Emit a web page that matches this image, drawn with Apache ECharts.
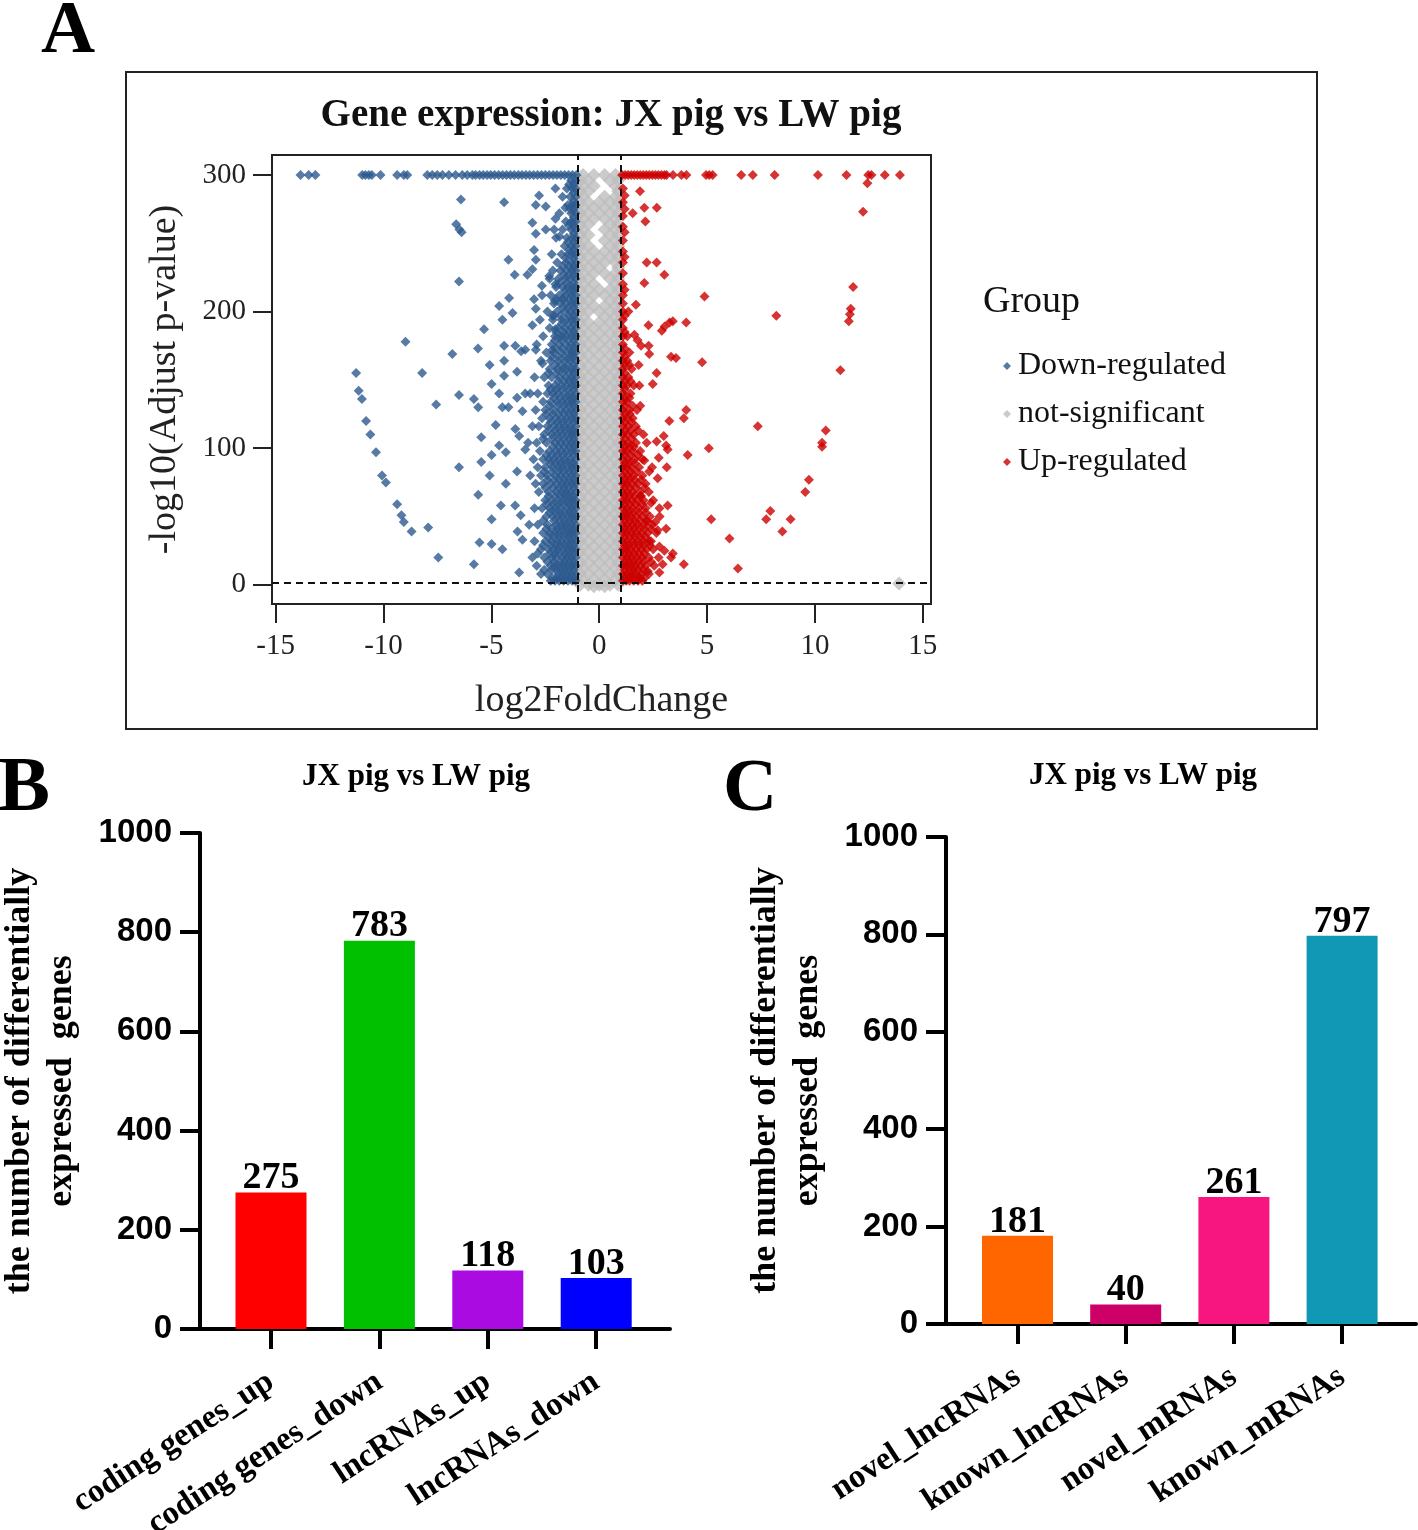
<!DOCTYPE html>
<html><head><meta charset="utf-8">
<script src="https://cdn.jsdelivr.net/npm/echarts@6/dist/echarts.min.js"></script>
<style>html,body{margin:0;padding:0;background:#fff}#c{width:1418px;height:1530px}</style>
</head><body><div id="c"></div>
<script>
// ---------------- Panel A data (volcano) ----------------
const xTicks = [-15, -10, -5, 0, 5, 10, 15];
const yTicks = [0, 100, 200, 300];
const fcCut = 1;          // |log2FC| threshold
const pCut = 1.3;         // -log10(0.05)
const capY = 300;         // capped -log10 p

// points capped at the top (x values, y = capY)
const downCapX = [-13.85,-13.47,-13.16,-10.99,-10.84,-10.68,-10.54,-10.14,-9.37,-9.06,-8.9,-7.97,-7.74,-7.51,-7.27,-6.97,-6.66,-6.35,-6.12,-5.88,-5.73,-5.55,-5.38,-5.2,-5.03,-4.85,-4.66,-4.48,-4.3,-4.12,-3.94,-3.75,-3.58,-3.4,-3.22,-3.04,-2.86,-2.68,-2.5,-2.32,-2.14,-1.96,-1.78,-1.6,-1.42,-1.24,-1.06];
const upCapX = [1.06,1.2,1.34,1.48,1.62,1.76,1.9,2.04,2.18,2.32,2.46,2.6,2.74,2.88,3.02,3.12,3.42,3.81,4.04,4.95,5.1,5.26,6.58,7.12,8.13,10.14,11.46,12.47,12.62,13.24,13.94];

// scattered down-regulated genes [log2FC, -log10 p]
const downSparse = [[-11.27,155],[-11.15,142],[-11.0,136],[-10.81,120],[-10.61,110],[-10.35,97],[-10.07,80],[-9.89,75],[-9.37,59],[-9.17,51],[-9.06,46],[-8.7,39],[-7.93,42],[-7.46,20],[-8.98,178],[-8.21,155],[-7.56,132],[-6.81,169],[-6.5,222],[-6.63,264],[-6.48,260],[-6.38,258],[-6.41,282],[-6.5,139],[-6.5,86],[-5.81,136],[-5.61,130],[-5.61,66],[-5.81,15],[-5.55,31],[-5.34,187],[-5.62,173],[-5.08,161],[-4.99,147],[-5.47,108],[-5.47,90],[-5.08,80],[-4.99,48],[-4.99,30],[-4.49,26],[-4.99,95],[-4.8,117],[-4.64,204],[-4.49,194],[-4.41,280],[-4.21,238],[-4.18,210],[-4.02,199],[-3.92,227],[-4.41,175],[-4.41,164],[-4.41,153],[-4.64,140],[-4.49,130],[-4.64,102],[-4.33,97],[-4.33,74],[-4.56,58],[-3.9,58],[-3.64,51],[-3.79,39],[-3.56,33],[-3.71,9],[-3.89,175],[-3.62,171],[-3.43,172],[-3.81,156],[-3.81,137],[-3.89,114],[-3.71,109],[-3.43,99],[-3.81,83],[-4.21,130],[-3.43,140],[-3.56,127],[-3.33,227],[-3.1,231],[-2.79,285],[-2.94,278],[-2.48,277],[-2.03,290],[-3.1,265],[-2.94,257],[-2.48,260],[-2.09,260],[-2.03,268],[-1.84,255],[-1.57,276],[-1.34,265],[-3.02,245],[-2.94,238],[-3.02,209],[-3.1,190],[-2.94,202],[-2.66,219],[-2.32,226],[-2.03,220],[-2.06,208],[-2.17,197],[-2.03,187],[-1.72,209],[-1.72,182],[-2.94,172],[-2.63,162],[-2.17,172]];

// dense down-regulated band, by row: [-log10 p, [log2FC...]]
const downRows = [
[3,[-1.1,-1.25,-1.45,-1.65,-1.85,-2.05,-2.25]],[8,[-1.1,-1.3,-1.5,-1.7,-1.9,-2.4,-2.7]],[14,[-1.1,-1.25,-1.45,-1.65,-1.85,-2.05,-2.25,-2.9]],
[20,[-1.1,-1.3,-1.5,-1.7,-2.0,-2.2,-2.55,-3.1]],[26,[-1.1,-1.25,-1.45,-1.65,-1.9,-2.1,-2.35,-2.7]],[32,[-1.1,-1.3,-1.5,-1.75,-1.95,-2.2,-2.5,-3.0]],
[38,[-1.1,-1.25,-1.4,-1.6,-1.85,-2.05,-2.3,-2.6]],[44,[-1.1,-1.3,-1.55,-1.75,-2.0,-2.4,-2.85,-3.25]],[50,[-1.1,-1.25,-1.45,-1.7,-1.9,-2.15,-2.45]],
[56,[-1.1,-1.3,-1.5,-1.8,-2.05,-2.3,-2.65,-3.0]],[62,[-1.1,-1.25,-1.45,-1.65,-1.9,-2.2,-2.5]],[68,[-1.1,-1.35,-1.55,-1.75,-2.0,-2.35,-2.8]],
[74,[-1.1,-1.25,-1.5,-1.7,-1.95,-2.25,-2.6,-2.95]],[80,[-1.1,-1.3,-1.55,-1.8,-2.05,-2.4,-2.7,-3.2]],[86,[-1.1,-1.25,-1.45,-1.7,-1.9,-2.15,-2.5,-2.85]],
[92,[-1.1,-1.35,-1.6,-1.85,-2.1,-2.35,-2.6,-3.05]],[98,[-1.1,-1.25,-1.5,-1.75,-2.0,-2.3,-2.75]],[104,[-1.1,-1.3,-1.55,-1.8,-2.05,-2.45,-2.9,-3.3]],
[110,[-1.1,-1.25,-1.45,-1.7,-1.95,-2.2,-2.55]],[116,[-1.1,-1.35,-1.6,-1.85,-2.1,-2.4,-2.8,-3.1]],[122,[-1.1,-1.25,-1.5,-1.75,-2.0,-2.3,-2.65]],
[128,[-1.1,-1.3,-1.55,-1.8,-2.15,-2.5,-2.95]],[134,[-1.1,-1.25,-1.45,-1.7,-1.95,-2.25,-2.6]],[140,[-1.1,-1.35,-1.6,-1.9,-2.15,-2.4,-2.85,-3.2]],
[146,[-1.1,-1.25,-1.5,-1.75,-2.05,-2.35]],[152,[-1.1,-1.3,-1.55,-1.85,-2.2,-2.55,-3.0]],[158,[-1.1,-1.25,-1.5,-1.7,-1.95,-2.3]],
[164,[-1.1,-1.35,-1.6,-1.9,-2.25,-2.7]],[170,[-1.1,-1.25,-1.45,-1.75,-2.1,-2.45]],[176,[-1.1,-1.3,-1.55,-1.85,-2.2,-2.9]],
[182,[-1.1,-1.25,-1.5,-1.8,-2.05,-2.6]],[188,[-1.1,-1.3,-1.6,-1.9,-2.3]],[194,[-1.1,-1.25,-1.5,-1.75,-2.15,-2.75]],
[200,[-1.1,-1.35,-1.6,-1.95,-2.4]],[206,[-1.1,-1.25,-1.5,-1.8,-2.1]],[212,[-1.1,-1.3,-1.55,-1.85,-2.25,-2.65]],
[218,[-1.1,-1.25,-1.45,-1.7,-2.0]],[224,[-1.1,-1.35,-1.6,-1.9,-2.3]],[230,[-1.1,-1.25,-1.5,-1.8,-2.15]],
[236,[-1.1,-1.3,-1.55,-1.95]],[242,[-1.1,-1.25,-1.45,-1.75,-2.2]],[248,[-1.1,-1.3,-1.6]],
[254,[-1.1,-1.25,-1.5,-2.0]],[260,[-1.1,-1.3,-1.7]],[266,[-1.1,-1.25,-1.55]],
[272,[-1.1,-1.3,-1.85]],[278,[-1.1,-1.25,-1.45]],[284,[-1.1,-1.35,-1.7]],
[290,[-1.1,-1.25,-1.5]],[296,[-1.1,-1.3]],
[5,[-1.18,-1.38,-1.58,-1.78,-1.98,-2.18]],[11,[-1.18,-1.4,-1.6,-1.8,-2.0,-2.2,-2.55]],[17,[-1.18,-1.38,-1.6,-1.8,-2.1,-2.4]],
[23,[-1.18,-1.4,-1.6,-1.85,-2.05,-2.3,-2.85]],[29,[-1.18,-1.38,-1.58,-1.8,-2.0,-2.25,-2.6]],[35,[-1.18,-1.4,-1.62,-1.85,-2.1,-2.35]],
[41,[-1.18,-1.35,-1.55,-1.75,-1.95,-2.2,-2.45]],[47,[-1.18,-1.4,-1.6,-1.85,-2.1,-2.6]],[53,[-1.18,-1.38,-1.6,-1.8,-2.05,-2.3]],
[59,[-1.18,-1.4,-1.65,-1.9,-2.15,-2.45]],[65,[-1.18,-1.38,-1.58,-1.8,-2.05,-2.35]],[71,[-1.18,-1.42,-1.65,-1.88,-2.15,-2.5]],
[77,[-1.18,-1.38,-1.6,-1.85,-2.1,-2.4]],[83,[-1.18,-1.4,-1.65,-1.9,-2.2,-2.55]],[89,[-1.18,-1.35,-1.58,-1.8,-2.05,-2.3]],
[95,[-1.18,-1.45,-1.7,-1.95,-2.2,-2.45]],[101,[-1.18,-1.38,-1.62,-1.88,-2.15]],[107,[-1.18,-1.4,-1.65,-1.9,-2.2,-2.6]],
[113,[-1.18,-1.35,-1.58,-1.8,-2.05,-2.35]],[119,[-1.18,-1.45,-1.7,-1.95,-2.25]],[125,[-1.18,-1.38,-1.62,-1.88,-2.15,-2.45]],
[131,[-1.18,-1.4,-1.65,-1.95,-2.3]],[137,[-1.18,-1.35,-1.58,-1.82,-2.1]],[143,[-1.18,-1.45,-1.75,-2.0,-2.25]],
[149,[-1.18,-1.38,-1.62,-1.9]],[155,[-1.18,-1.4,-1.7,-2.0,-2.35]],[161,[-1.18,-1.45,-1.75,-2.05]],
[167,[-1.18,-1.35,-1.6,-1.9,-2.2]],[173,[-1.18,-1.4,-1.7,-2.0]],[179,[-1.18,-1.45,-1.75,-2.05]],
[185,[-1.18,-1.4,-1.65,-2.0]],[191,[-1.18,-1.45,-1.75]],[197,[-1.18,-1.4,-1.8,-2.1]],
[203,[-1.18,-1.45,-1.7]],[209,[-1.18,-1.4,-1.65,-2.0]],[215,[-1.18,-1.35,-1.6]],
[221,[-1.18,-1.5,-1.85]],[227,[-1.18,-1.4,-1.65]],[233,[-1.18,-1.4,-1.7]],
[239,[-1.18,-1.55]],[245,[-1.18,-1.4]],[251,[-1.18,-1.45]],[257,[-1.18]],[263,[-1.18,-1.4]],
[269,[-1.18]],[275,[-1.18,-1.35]],[281,[-1.18]],[287,[-1.18]],[293,[-1.18,-1.4]]
];

// scattered up-regulated genes
const upSparse = [[12.43,294],[12.23,273],[11.77,218],[11.66,202],[11.62,198],[11.57,193],[11.18,157],[10.5,113],[10.33,104],[10.33,101],[9.72,77],[9.55,68],[8.87,48],[8.49,39],[7.93,54],[7.74,48],[7.35,116],[8.21,197],[6.43,12],[6.04,34],[5.19,48],[5.08,100],[4.88,211],[4.77,163],[4.1,95],[4.03,128],[3.92,122],[3.92,15],[4.03,192],[3.41,193],[3.26,192],[3.03,189],[2.9,186],[3.33,167],[3.56,166],[3.02,227],[2.2,236],[2.66,236],[2.67,276],[2.09,276],[2.14,266],[1.89,288],[1.55,272],[2.09,221],[1.7,205],[2.28,190],[1.63,183],[1.78,179],[1.94,175],[2.29,175],[2.32,169],[1.83,161],[2.66,155],[2.48,147],[1.86,146],[1.9,131],[3.25,120],[2.99,109],[3.1,102],[3.17,99],[2.2,104],[2.66,105],[2.76,93],[3.13,86],[2.09,91],[2.32,83],[2.71,78],[1.94,65],[2.4,60],[2.79,56],[3.17,58],[2.2,47],[2.6,46],[3.1,41],[2.71,40],[2.32,32],[2.79,28],[3.02,25],[3.41,23],[3.33,20],[2.94,15],[2.79,9],[2.25,10],[1.86,5]];

// dense up-regulated band
const upRows = [
[3,[1.1,1.25,1.4,1.6,1.8,2.0]],[8,[1.1,1.3,1.5,1.7,1.95,2.3]],[14,[1.1,1.25,1.45,1.65,1.9,2.15,2.55]],
[20,[1.1,1.3,1.5,1.75,2.0,2.3,2.75]],[26,[1.1,1.25,1.45,1.7,1.95,2.2,2.5]],[32,[1.1,1.3,1.55,1.8,2.05,2.4]],
[38,[1.1,1.25,1.5,1.7,1.95,2.25,2.65]],[44,[1.1,1.3,1.55,1.8,2.1,2.45]],[50,[1.1,1.25,1.45,1.7,2.0,2.35,2.8]],
[56,[1.1,1.3,1.55,1.85,2.15]],[62,[1.1,1.25,1.5,1.75,2.05,2.5]],[68,[1.1,1.3,1.55,1.9,2.3]],
[74,[1.1,1.25,1.5,1.8,2.15]],[80,[1.1,1.35,1.6,2.0]],[86,[1.1,1.25,1.5,1.85,2.45]],
[92,[1.1,1.35,1.65,2.0]],[98,[1.1,1.25,1.55,1.9]],[104,[1.1,1.35,1.7]],
[110,[1.1,1.3,1.6,2.05]],[116,[1.1,1.35,1.7]],[122,[1.1,1.3,1.55]],
[128,[1.1,1.4,1.75]],[134,[1.1,1.3]],[140,[1.1,1.45]],[146,[1.1,1.3,1.6]],[152,[1.1,1.35]],
[158,[1.1,1.5]],[164,[1.1,1.3]],[170,[1.1,1.4]],[176,[1.1]],[182,[1.1,1.3]],[188,[1.1]],
[194,[1.1]],[200,[1.1,1.35]],[206,[1.1]],[212,[1.1]],[220,[1.1]],[228,[1.1]],[236,[1.1]],
[244,[1.1]],[252,[1.1]],[262,[1.1]],[270,[1.1]],[280,[1.1]],[290,[1.1]],
[5,[1.18,1.35,1.5,1.7,1.9,2.1]],[11,[1.18,1.4,1.6,1.8,2.05]],[17,[1.18,1.38,1.58,1.8,2.05,2.4]],
[23,[1.18,1.4,1.62,1.85,2.1]],[29,[1.18,1.35,1.58,1.82,2.05,2.35]],[35,[1.18,1.42,1.65,1.9,2.15]],
[41,[1.18,1.38,1.6,1.85,2.1,2.4]],[47,[1.18,1.42,1.65,1.9,2.2]],[53,[1.18,1.35,1.58,1.85,2.15]],
[59,[1.18,1.42,1.7,2.0]],[65,[1.18,1.38,1.62,1.9]],[71,[1.18,1.42,1.7,2.1]],
[77,[1.18,1.38,1.65,1.95]],[83,[1.18,1.45,1.75]],[89,[1.18,1.38,1.65]],
[95,[1.18,1.45,1.8]],[101,[1.18,1.4,1.6]],[107,[1.18,1.5]],[113,[1.18,1.45,1.8]],
[119,[1.18,1.5]],[125,[1.18,1.42]],[131,[1.18,1.55]],[137,[1.18,1.4]],[143,[1.18]],
[149,[1.18,1.45]],[155,[1.18]],[161,[1.18,1.4]],[167,[1.18]],[173,[1.18]],[185,[1.18]],
[197,[1.18]],[216,[1.18]],[240,[1.18]],[258,[1.18]],[275,[1.18]],[285,[1.18]]
];

// not-significant genes (|log2FC| < 1), by row
const nsRows = [
[300,[-0.75,-0.25,0.25,0.75]],[296,[-0.88,-0.5,0.5,0.88]],[292,[-0.75,-0.25,0.75]],[288,[-0.88,-0.5,0.88]],
[284,[-0.75,0.25,0.75]],[280,[-0.88,-0.5,0,0.5,0.88]],[276,[-0.75,-0.25,0.25,0.75]],[272,[-0.88,-0.5,0,0.5,0.88]],
[268,[-0.75,-0.25,0.25,0.75]],[264,[-0.88,-0.5,0.5,0.88]],[260,[-0.75,0.25,0.75]],[256,[-0.88,-0.5,0.5,0.88]],
[252,[-0.75,0.25,0.75]],[248,[-0.88,-0.5,0.5,0.88]],[244,[-0.75,-0.25,0.25,0.75]],[240,[-0.88,-0.5,0,0.5,0.88]],
[236,[-0.75,-0.25,0.25,0.75]],[232,[-0.88,-0.5,0,0.88]],[228,[-0.75,-0.25,0.25,0.75]],[224,[-0.88,-0.5,0.5,0.88]],
[220,[-0.75,-0.25,0.75]],[216,[-0.88,-0.5,0,0.5,0.88]],[212,[-0.75,-0.25,0.25,0.75]],[208,[-0.88,-0.5,0.5,0.88]],
[204,[-0.75,-0.25,0.25,0.75]],[200,[-0.88,-0.5,0,0.5,0.88]],[196,[-0.75,0.25,0.75]],[192,[-0.88,-0.5,0,0.5,0.88]],
[188,[-0.75,-0.25,0.25,0.75]],[184,[-0.88,-0.5,0,0.5,0.88]],[180,[-0.75,-0.25,0.25,0.75]],[176,[-0.88,-0.5,0,0.5,0.88]],
[172,[-0.75,-0.25,0.25,0.75]],[168,[-0.88,-0.5,0,0.5,0.88]],[164,[-0.75,-0.25,0.25,0.75]],[160,[-0.88,-0.5,0,0.5,0.88]],
[156,[-0.75,-0.25,0.25,0.75]],[152,[-0.88,-0.5,0,0.5,0.88]],[148,[-0.75,-0.25,0.25,0.75]],[144,[-0.88,-0.5,0,0.5,0.88]],
[140,[-0.75,-0.25,0.25,0.75]],[136,[-0.88,-0.5,0,0.5,0.88]],[132,[-0.75,-0.25,0.25,0.75]],[128,[-0.88,-0.5,0,0.5,0.88]],
[124,[-0.75,-0.25,0.25,0.75]],[120,[-0.88,-0.5,0,0.5,0.88]],[116,[-0.75,-0.25,0.25,0.75]],[112,[-0.88,-0.5,0,0.5,0.88]],
[108,[-0.75,-0.25,0.25,0.75]],[104,[-0.88,-0.5,0,0.5,0.88]],[100,[-0.75,-0.25,0.25,0.75]],[96,[-0.88,-0.5,0,0.5,0.88]],
[92,[-0.75,-0.25,0.25,0.75]],[88,[-0.88,-0.5,0,0.5,0.88]],[84,[-0.75,-0.25,0.25,0.75]],[80,[-0.88,-0.5,0,0.5,0.88]],
[76,[-0.75,-0.25,0.25,0.75]],[72,[-0.88,-0.5,0,0.5,0.88]],[68,[-0.75,-0.25,0.25,0.75]],[64,[-0.88,-0.5,0,0.5,0.88]],
[60,[-0.75,-0.25,0.25,0.75]],[56,[-0.88,-0.5,0,0.5,0.88]],[52,[-0.75,-0.25,0.25,0.75]],[48,[-0.88,-0.5,0,0.5,0.88]],
[44,[-0.75,-0.25,0.25,0.75]],[40,[-0.88,-0.5,0,0.5,0.88]],[36,[-0.75,-0.25,0.25,0.75]],[32,[-0.88,-0.5,0,0.5,0.88]],
[28,[-0.75,-0.25,0.25,0.75]],[24,[-0.88,-0.5,0,0.5,0.88]],[20,[-0.75,-0.25,0.25,0.75]],[16,[-0.88,-0.5,0,0.5,0.88]],
[12,[-0.75,-0.25,0.25,0.75]],[8,[-0.88,-0.5,0,0.5,0.88]],[4,[-0.75,-0.25,0.25,0.75]],[0,[-0.88,-0.5,0,0.5,0.88]],
[-1,[-0.25,0.25]]
];
const nsSparse = [[13.9,1]];

// ---------------- Panel B / C data ----------------
const catsB = ['coding genes_up', 'coding genes_down', 'lncRNAs_up', 'lncRNAs_down'];
const valsB = [275, 783, 118, 103];
const colorsB = ['#ff0000', '#00c000', '#a90be0', '#0000ff'];
const catsC = ['novel_lncRNAs', 'known_lncRNAs', 'novel_mRNAs', 'known_mRNAs'];
const valsC = [181, 40, 261, 797];
const colorsC = ['#ff6600', '#cc0066', '#f7167f', '#1198b5'];
const barTicks = {min: 0, max: 1000, interval: 200};

// ---------------- build ----------------
const fromRows = rows => rows.flatMap(([y, xs]) => xs.map(x => [x, y]));
const downData = downCapX.map(x => [x, capY]).concat(downSparse, fromRows(downRows));
const upData = upCapX.map(x => [x, capY]).concat(upSparse, fromRows(upRows));
const nsData = fromRows(nsRows).concat(nsSparse);

const serif = "'Liberation Serif','Times New Roman',serif";
const sans = "'Liberation Sans',Arial,sans-serif";

function barItems(vals, colors) {
  return vals.map((v, i) => ({value: v, itemStyle: {color: colors[i]}}));
}
function valueAxisBar(gi) {
  return {gridIndex: gi, type: 'value', min: barTicks.min, max: barTicks.max, interval: barTicks.interval,
    axisLine: {show: true, onZero: false, lineStyle: {color: '#000', width: 4}},
    axisTick: {show: true, length: 20, lineStyle: {color: '#000', width: 4}},
    axisLabel: {fontFamily: sans, fontWeight: 'bold', fontSize: 33, color: '#000', margin: 28,
      formatter: v => String(v)},
    splitLine: {show: false},
    name: 'the number of differentially\nexpressed  genes', nameLocation: 'middle', nameGap: 117,
    nameTextStyle: {fontFamily: serif, fontWeight: 'bold', fontSize: 36, lineHeight: 42, color: '#000'}};
}
function baseXAxis(gi) {
  return {gridIndex: gi, type: 'value', min: 0, max: 1,
    axisLine: {show: true, onZero: false, lineStyle: {color: '#000', width: 4}},
    axisTick: {show: false}, axisLabel: {show: false}, splitLine: {show: false}};
}
function catAxis(gi, cats) {
  return {gridIndex: gi, type: 'category', data: cats,
    axisLine: {show: false, onZero: false},
    axisTick: {show: true, alignWithLabel: true, length: 20, lineStyle: {color: '#000', width: 4}},
    axisLabel: {rotate: 33, margin: 50, fontFamily: serif, fontWeight: 'bold', fontSize: 33, color: '#000', interval: 0},
    splitLine: {show: false}};
}
function hiddenY(gi) {
  return {gridIndex: gi, type: 'value', min: barTicks.min, max: barTicks.max, show: false};
}
function barSeries(gi, vals, colors) {
  return {type: 'bar', xAxisIndex: gi, yAxisIndex: gi, data: barItems(vals, colors), barWidth: 71,
    label: {show: true, position: 'top', distance: -5, fontFamily: serif, fontWeight: 'bold', fontSize: 38, color: '#000'},
    silent: true, z: 1};
}
function grid(left, top, width, height, extra) {
  return Object.assign({left, top, width, height, containLabel: false, outerBoundsMode: 'none'}, extra || {});
}

const option = {
  animation: false,
  backgroundColor: '#fff',
  grid: [
    grid(126, 72, 1191, 657, {show: true, borderColor: '#222', borderWidth: 2}),
    grid(272, 155, 659, 449, {show: true, borderColor: '#222', borderWidth: 2}),
    grid(200, 833, 470, 496),
    grid(216.8, 833, 433.6, 496),
    grid(946, 837, 470, 487),
    grid(963.4, 837, 432.8, 487)
  ],
  xAxis: [
    {gridIndex: 0, type: 'value', min: 0, max: 1, show: false},
    {gridIndex: 1, type: 'value', min: -15.17, max: 15.38,
      axisLine: {show: false, onZero: false}, splitLine: {show: false},
      axisTick: {show: true, customValues: xTicks, length: 19, lineStyle: {color: '#222', width: 2}},
      axisLabel: {customValues: xTicks, margin: 28, fontFamily: serif, fontSize: 29, color: '#222'},
      name: 'log2FoldChange', nameLocation: 'middle', nameGap: 78,
      nameTextStyle: {fontFamily: serif, fontSize: 38, color: '#222'}},
    baseXAxis(2), catAxis(3, catsB), baseXAxis(4), catAxis(5, catsC)
  ],
  yAxis: [
    {gridIndex: 0, type: 'value', min: 0, max: 1, show: false},
    {gridIndex: 1, type: 'value', min: -14, max: 314.6,
      axisLine: {show: false, onZero: false}, splitLine: {show: false},
      axisTick: {show: true, customValues: yTicks, length: 19, lineStyle: {color: '#222', width: 2}},
      axisLabel: {customValues: yTicks, margin: 26, fontFamily: serif, fontSize: 29, color: '#222'},
      name: '-log10(Adjust p-value)', nameLocation: 'middle', nameGap: 88,
      nameTextStyle: {fontFamily: serif, fontSize: 38, color: '#222'}},
    valueAxisBar(2), hiddenY(3), valueAxisBar(4), hiddenY(5)
  ],
  legend: {
    data: ['Down-regulated', 'not-significant', 'Up-regulated'],
    orient: 'vertical', left: 998, top: 345, itemWidth: 8, itemHeight: 8, itemGap: 16,
    icon: 'diamond', selectedMode: false,
    textStyle: {fontFamily: serif, fontSize: 32, color: '#111', padding: [0, 0, 0, 2]}
  },
  series: [
    {name: 'not-significant', type: 'scatter', xAxisIndex: 1, yAxisIndex: 1, data: nsData,
      symbol: 'diamond', symbolSize: 14, itemStyle: {color: '#bebebe'}, silent: true, z: 2},
    {name: 'Down-regulated', type: 'scatter', xAxisIndex: 1, yAxisIndex: 1, data: downData,
      symbol: 'diamond', symbolSize: 10, itemStyle: {color: '#2d5a8e'}, silent: true, z: 3},
    {name: 'Up-regulated', type: 'scatter', xAxisIndex: 1, yAxisIndex: 1, data: upData,
      symbol: 'diamond', symbolSize: 10, itemStyle: {color: '#cc0000'}, silent: true, z: 3},
    {name: 'thresholds', type: 'scatter', xAxisIndex: 1, yAxisIndex: 1, data: [], z: 5,
      markLine: {silent: true, symbol: 'none', label: {show: false},
        lineStyle: {type: [7, 5], color: '#111', width: 2},
        data: [{xAxis: -fcCut}, {xAxis: fcCut}, {yAxis: pCut}]}},
    barSeries(3, valsB, colorsB),
    barSeries(5, valsC, colorsC)
  ],
  graphic: [
    {type: 'text', x: 68, y: 33, style: {text: 'A', font: "bold 75px " + serif, fill: '#000', textAlign: 'center', textVerticalAlign: 'middle'}},
    {type: 'text', x: 611, y: 116, style: {text: 'Gene expression: JX pig vs LW pig', font: "bold 39px " + serif, fill: '#111', textAlign: 'center', textVerticalAlign: 'middle'}},
    {type: 'text', x: 983, y: 302, style: {text: 'Group', font: "38px " + serif, fill: '#111', textAlign: 'left', textVerticalAlign: 'middle'}},
    {type: 'text', x: 24, y: 790, style: {text: 'B', font: "bold 78px " + serif, fill: '#000', textAlign: 'center', textVerticalAlign: 'middle'}},
    {type: 'text', x: 750, y: 791, style: {text: 'C', font: "bold 75px " + serif, fill: '#000', textAlign: 'center', textVerticalAlign: 'middle'}},
    {type: 'text', x: 416, y: 777, style: {text: 'JX pig vs LW pig', font: "bold 31px " + serif, fill: '#000', textAlign: 'center', textVerticalAlign: 'middle'}},
    {type: 'text', x: 1143, y: 776, style: {text: 'JX pig vs LW pig', font: "bold 31px " + serif, fill: '#000', textAlign: 'center', textVerticalAlign: 'middle'}}
  ]
};

const chart = echarts.init(document.getElementById('c'), null, {renderer: 'canvas'});
chart.setOption(option);
</script>
</body></html>
